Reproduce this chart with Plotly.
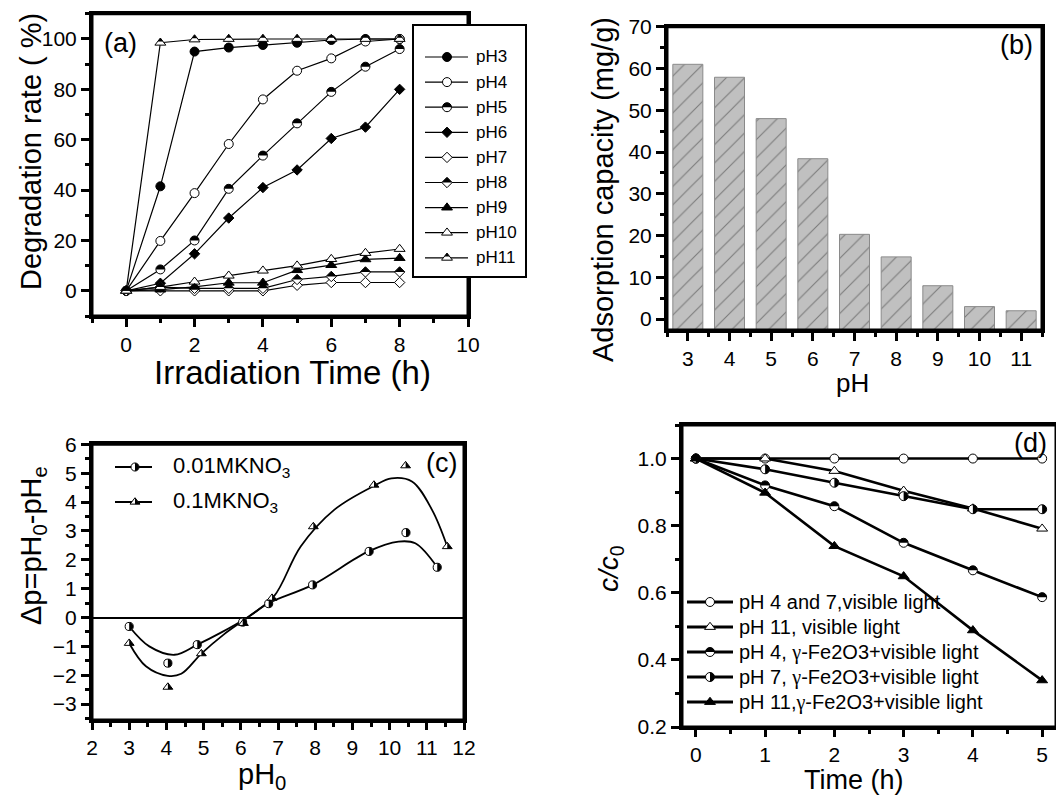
import math
import plotly.graph_objects as go

W, H = 1056, 795
FONT = "Liberation Sans, Arial, Helvetica, sans-serif"

# ---------------- (a) degradation rate vs irradiation time ----------------
time_a = [0, 1, 2, 3, 4, 5, 6, 7, 8]
labels_a = ["pH3", "pH4", "pH5", "pH6", "pH7", "pH8", "pH9", "pH10", "pH11"]
deg_pH3 = [0, 41.5, 95, 96.6, 97.6, 98.5, 99.6, 100, 100]
deg_pH4 = [0, 19.8, 38.8, 58.3, 76, 87.4, 92.3, 99, 100]
deg_pH5 = [0, 8.5, 20, 40.5, 53.7, 66.5, 79, 89, 96]
deg_pH6 = [0, 3, 14.7, 28.9, 41, 48, 60.5, 65, 80]
deg_pH7 = [0, 0, 0, 0, 0, 2.2, 3.3, 3.3, 3.3]
deg_pH8 = [0, 1.5, 1, 1, 1, 4.5, 5.7, 7.5, 7.5]
deg_pH9 = [0, 0.5, 1.6, 3.2, 3.2, 8.2, 10.2, 12.5, 13]
deg_pH10 = [0, 1.5, 3.6, 6, 8, 10, 12.6, 15, 16.6]
deg_pH11 = [0, 98.5, 99.8, 100, 100, 100, 100, 100, 100]
values_a = [deg_pH3, deg_pH4, deg_pH5, deg_pH6, deg_pH7, deg_pH8, deg_pH9, deg_pH10, deg_pH11]

# ---------------- (b) adsorption capacity vs pH ----------------
ph_b = [3, 4, 5, 6, 7, 8, 9, 10, 11]
capacity_b = [61.0, 57.9, 48.0, 38.4, 20.3, 14.9, 8.0, 3.0, 2.0]

# ---------------- (c) delta pH vs initial pH ----------------
ph0_001 = [3.0, 4.04, 4.83, 6.05, 6.75, 7.93, 9.45, 10.44, 11.28]
dp_001 = [-0.31, -1.58, -0.94, -0.16, 0.48, 1.13, 2.29, 2.94, 1.74]
ph0_01 = [3.0, 4.04, 4.94, 6.07, 6.84, 7.95, 9.58, 10.43, 11.55]
dp_01 = [-0.89, -2.41, -1.25, -0.2, 0.67, 3.15, 4.59, 5.26, 2.46]
# fitted curves
fit_x_001 = [3.0, 3.54, 4.22, 4.83, 5.44, 6.21, 6.75, 7.93, 9.43, 10.24, 10.69, 11.28]
fit_y_001 = [-0.31, -1.0, -1.29, -0.94, -0.54, 0.03, 0.5, 1.13, 2.29, 2.63, 2.57, 1.74]
fit_x_01 = [3.0, 3.45, 4.04, 4.4, 4.94, 5.53, 6.21, 6.89, 7.61, 8.51, 9.58, 10.05, 10.6, 11.14, 11.55]
fit_y_01 = [-0.89, -1.69, -2.02, -1.95, -1.25, -0.6, 0.03, 0.73, 2.46, 3.73, 4.56, 4.82, 4.71, 3.73, 2.46]
labels_c = ["0.01MKNO<sub>3</sub>", "0.1MKNO<sub>3</sub>"]

# ---------------- (d) c/c0 vs time ----------------
time_d = [0, 1, 2, 3, 4, 5]
c_vis_pH4_7 = [1.0, 1.0, 1.0, 1.0, 1.0, 1.0]
c_vis_pH11 = [1.0, 1.0, 0.963, 0.904, 0.851, 0.791]
c_fe_pH4 = [1.0, 0.92, 0.858, 0.749, 0.667, 0.587]
c_fe_pH7 = [1.0, 0.968, 0.928, 0.888, 0.849, 0.849]
c_fe_pH11 = [1.0, 0.898, 0.739, 0.649, 0.488, 0.339]
values_d = [c_vis_pH4_7, c_vis_pH11, c_fe_pH4, c_fe_pH7, c_fe_pH11]
GAMMA = "<span style='font-family:Liberation Serif, Times New Roman, serif'>γ</span>"
labels_d = ["pH 4 and 7,visible light", "pH 11, visible light",
            "pH 4, " + GAMMA + "-Fe2O3+visible light",
            "pH 7, " + GAMMA + "-Fe2O3+visible light",
            "pH 11," + GAMMA + "-Fe2O3+visible light"]

# ---------------- styles ----------------
STYLE_A = [("circle", "filled"), ("circle", "open"), ("circle", "top"),
           ("diamond", "filled"), ("diamond", "open"), ("diamond", "top"),
           ("triangle-up", "filled"), ("triangle-up", "open"), ("triangle-up", "top")]
STYLE_C = [("circle", "right"), ("triangle-up", "right")]
STYLE_D = [("circle", "open"), ("triangle-up", "open"), ("circle", "top"),
           ("circle", "right"), ("triangle-up", "filled")]


def px(x):
    return x / W


def py(y):
    return 1 - y / H


def f(v):
    return f"{v:.2f}"


def marker_path(sym, r):
    k = 0.5523
    if sym == "circle":
        return (f"M{f(-r)},0 C{f(-r)},{f(k*r)} {f(-k*r)},{f(r)} 0,{f(r)} "
                f"C{f(k*r)},{f(r)} {f(r)},{f(k*r)} {f(r)},0 "
                f"C{f(r)},{f(-k*r)} {f(k*r)},{f(-r)} 0,{f(-r)} "
                f"C{f(-k*r)},{f(-r)} {f(-r)},{f(-k*r)} {f(-r)},0 Z")
    if sym == "triangle-up":
        rt = r * 2 / math.sqrt(3)
        return f"M{f(-rt)},{f(-r/2)} L{f(rt)},{f(-r/2)} L0,{f(r)} Z"
    rd = 1.3 * r
    return f"M{f(-rd)},0 L0,{f(rd)} L{f(rd)},0 L0,{f(-rd)} Z"


def half_path(sym, half, r):
    k = 0.5523
    if sym == "circle":
        if half == "top":
            return (f"M{f(-r)},0 C{f(-r)},{f(k*r)} {f(-k*r)},{f(r)} 0,{f(r)} "
                    f"C{f(k*r)},{f(r)} {f(r)},{f(k*r)} {f(r)},0 Z")
        return (f"M0,{f(r)} C{f(k*r)},{f(r)} {f(r)},{f(k*r)} {f(r)},0 "
                f"C{f(r)},{f(-k*r)} {f(k*r)},{f(-r)} 0,{f(-r)} Z")
    if sym == "triangle-up":
        rt = r * 2 / math.sqrt(3)
        if half == "top":
            return f"M0,{f(r)} L{f(rt/2)},{f(r/4)} L{f(-rt/2)},{f(r/4)} Z"
        return f"M0,{f(r)} L{f(rt)},{f(-r/2)} L0,{f(-r/2)} Z"
    rd = 1.3 * r
    return f"M{f(-rd)},0 L0,{f(rd)} L{f(rd)},0 Z"


SIZES = {"circle": 9, "diamond": 8, "triangle-up": 9.5}

fig = go.Figure()
shapes = []
annotations = []


def add_series(xs, ys, sym, fill, name, xa, ya, lw, size_scale=1.0, mode="lines+markers"):
    size = SIZES[sym] * size_scale
    fig.add_trace(go.Scatter(
        x=xs, y=ys, mode=mode, name=name, xaxis=xa, yaxis=ya, showlegend=False,
        line=dict(color="black", width=lw),
        marker=dict(symbol=sym, size=size, color="black" if fill == "filled" else "white",
                    line=dict(color="black", width=1)),
    ))
    if fill in ("top", "right"):
        for xv, yv in zip(xs, ys):
            shapes.append(dict(type="path", xref=xa, yref=ya, xsizemode="pixel", ysizemode="pixel",
                               xanchor=xv, yanchor=yv, path=half_path(sym, fill, size / 2),
                               fillcolor="black", line=dict(width=0), layer="above"))


def legend_rows(labels, styles, x0, xm, x1, xt, y0, dy, lw, fs, size_scale=1.0):
    for i, (lab, (sym, fill)) in enumerate(zip(labels, styles)):
        cy = y0 + i * dy
        r = SIZES[sym] * size_scale / 2
        shapes.append(dict(type="line", xref="paper", yref="paper", x0=px(x0), x1=px(x1),
                           y0=py(cy), y1=py(cy), line=dict(color="black", width=lw), layer="above"))
        shapes.append(dict(type="path", xref="paper", yref="paper", xsizemode="pixel",
                           ysizemode="pixel", xanchor=px(xm), yanchor=py(cy),
                           path=marker_path(sym, r),
                           fillcolor="black" if fill == "filled" else "white",
                           line=dict(color="black", width=1), layer="above"))
        if fill in ("top", "right"):
            shapes.append(dict(type="path", xref="paper", yref="paper", xsizemode="pixel",
                               ysizemode="pixel", xanchor=px(xm), yanchor=py(cy),
                               path=half_path(sym, fill, r), fillcolor="black",
                               line=dict(width=0), layer="above"))
        annotations.append(dict(x=px(xt), y=py(cy), xref="paper", yref="paper", text=lab,
                                showarrow=False, xanchor="left", yanchor="middle",
                                font=dict(family=FONT, size=fs, color="black")))


def label(x, y, s, size, angle=0, xanchor="center"):
    annotations.append(dict(x=px(x), y=py(y), xref="paper", yref="paper", text=s,
                            showarrow=False, textangle=angle, xanchor=xanchor, yanchor="middle",
                            font=dict(family=FONT, size=size, color="black")))


def frame(xa, ya):
    shapes.append(dict(type="rect", xref=xa + " domain", yref=ya + " domain", x0=0, x1=1, y0=0, y1=1,
                       line=dict(color="black", width=3), fillcolor="rgba(0,0,0,0)", layer="above"))


# ---- panel (a)
for name, vals, (sym, fill) in zip(labels_a, values_a, STYLE_A):
    add_series(time_a, vals, sym, fill, name, "x", "y", 1.2)

# ---- panel (b)
B_YMIN = -2.6
fig.add_trace(go.Bar(
    x=ph_b, y=[v - B_YMIN for v in capacity_b], base=B_YMIN, width=0.72,
    xaxis="x2", yaxis="y2", showlegend=False, name="Adsorption capacity",
    marker=dict(color="#c0c0c0", line=dict(color="#8a8a8a", width=1),
                pattern=dict(shape="/", fgcolor="#7a7a7a", bgcolor="#c0c0c0", size=13, solidity=0.08)),
))

# ---- panel (c)
fig.add_trace(go.Scatter(x=fit_x_001, y=fit_y_001, mode="lines",
                         line=dict(color="black", width=1.8, shape="spline", smoothing=1.0),
                         xaxis="x3", yaxis="y3", showlegend=False, name="fit 0.01M"))
fig.add_trace(go.Scatter(x=fit_x_01, y=fit_y_01, mode="lines",
                         line=dict(color="black", width=1.8, shape="spline", smoothing=1.0),
                         xaxis="x3", yaxis="y3", showlegend=False, name="fit 0.1M"))
add_series(ph0_001, dp_001, "circle", "right", labels_c[0], "x3", "y3", 1.8, 0.9, mode="markers")
add_series(ph0_01, dp_01, "triangle-up", "right", labels_c[1], "x3", "y3", 1.8, 0.9, mode="markers")

# ---- panel (d)
for name, vals, (sym, fill) in zip(labels_d, values_d, STYLE_D):
    add_series(time_d, vals, sym, fill, name, "x4", "y4", 2.6)

# ---- frames
frame("x", "y")
frame("x2", "y2")
frame("x3", "y3")
frame("x4", "y4")

# ---- legends
shapes.append(dict(type="rect", xref="paper", yref="paper", x0=px(413), x1=px(526), y0=py(277), y1=py(25),
                   line=dict(color="black", width=2), fillcolor="white", layer="above"))
legend_rows(labels_a, STYLE_A, 425, 447, 468, 474, 57, 25.1, 1.2, 17)
legend_rows(labels_c, STYLE_C, 115, 135, 152, 171, 467, 35, 2, 22, 0.9)
legend_rows(labels_d, STYLE_D, 687, 710, 733, 737, 602, 25, 3, 20)

# ---- axis titles and panel labels
label(31, 152, "Degradation rate ( %)", 29, -90)
label(292, 372, "Irradiation Time (h)", 33)
label(603, 190, "Adsorption capacity (mg/g)", 29, -90)
label(852, 383, "pH", 26)
label(33, 546, "Δp=pH<sub>0</sub>-pH<sub>e</sub>", 29, -90)
label(262, 776, "pH<sub>0</sub>", 29)
label(610, 569, "<i>c/c</i><sub>0</sub>", 28, -90)
label(854, 780, "Time (h)", 27)
label(120, 43, "(a)", 27)
label(1016, 45, "(b)", 27)
label(441, 463, "(c)", 27)
label(1030, 443, "(d)", 27)


def axis(domain, rng, dtick, mdtick, anchor, tick0=0, fmt=None, zeroline=False, ticklen=8):
    d = dict(domain=domain, range=rng, anchor=anchor, showline=True, linecolor="black",
             linewidth=3, mirror=True, ticks="outside", ticklen=ticklen, tickwidth=3,
             tickcolor="black", dtick=dtick, tick0=tick0, showgrid=False,
             tickfont=dict(family=FONT, size=21, color="black"),
             zeroline=zeroline, zerolinecolor="black", zerolinewidth=2,
             minor=dict(ticks="outside", ticklen=4, tickwidth=2.5, tickcolor="black", dtick=mdtick),
             layer="above traces", fixedrange=True)
    if fmt:
        d["tickformat"] = fmt
    return d


fig.update_layout(
    width=W, height=H, template="none",
    margin=dict(l=0, r=0, t=0, b=0),
    paper_bgcolor="white", plot_bgcolor="white", showlegend=False,
    font=dict(family=FONT, color="black"),
    xaxis=axis([px(92), px(468)], [-1, 10], 2, 1, "y"),
    yaxis=axis([py(316), py(13.8)], [-10, 110], 20, 10, "x"),
    xaxis2=axis([px(667), px(1042)], [2.5, 11.5], 1, 0.5, "y2"),
    yaxis2=axis([py(330), py(26.7)], [B_YMIN, 70], 10, 5, "x2"),
    xaxis3=axis([px(92), px(464)], [2, 12], 1, 0.5, "y3", ticklen=7),
    yaxis3=axis([py(720), py(444.3)], [-3.55, 6], 1, 0.5, "x3", zeroline=True),
    xaxis4=axis([px(682), 1.0], [-0.2, 5.2], 1, 0.5, "y4", ticklen=7),
    yaxis4=axis([py(727), py(425)], [0.2, 1.1], 0.2, 0.1, "x4", tick0=0.2, fmt=".1f"),
    shapes=shapes,
    annotations=annotations,
)

fig.write_html("out.html", config={"displayModeBar": False},
               post_script="document.body.style.margin='0';document.body.style.overflow='hidden';")
